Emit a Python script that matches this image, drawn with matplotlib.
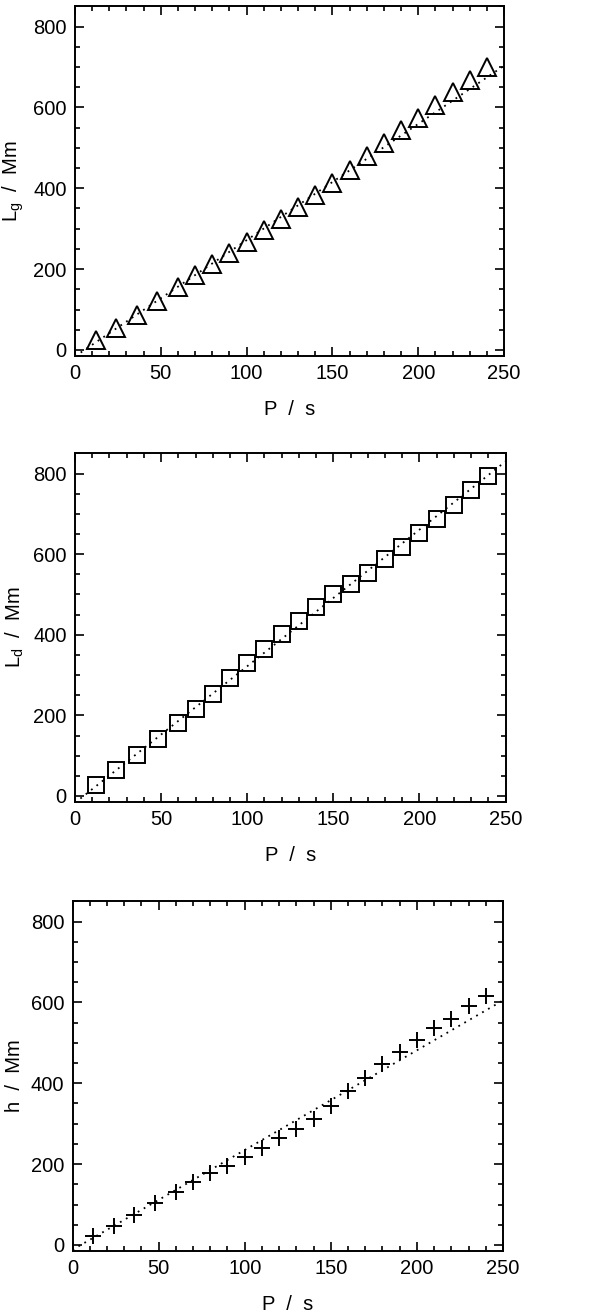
import numpy as np
import matplotlib.pyplot as plt

plt.rcParams['font.family'] = ['Liberation Sans', 'DejaVu Sans']

# Period values (s), shared by all three panels
period = [12, 24, 36, 48, 60, 70, 80, 90, 100, 110, 120, 130, 140, 150,
          160, 170, 180, 190, 200, 210, 220, 230, 240]

# Panel values (Mm)
lg_vals = [24, 54, 86, 121, 156, 186, 212, 241, 267, 296, 325, 354, 383,
           414, 446, 480, 513, 543, 575, 606, 637, 668, 699]
ld_vals = [26, 64, 102, 141, 182, 216, 254, 293, 330, 365, 401, 435, 468,
           500, 526, 554, 587, 618, 653, 686, 722, 758, 793]
h_vals = [21, 47, 74, 103, 131, 156, 179, 196, 218, 241, 265, 286, 312,
          344, 381, 414, 447, 478, 508, 537, 560, 590, 617]

# Dotted reference lines (end points)
line_x = [0, 250]
lg_line = [-16, 703]
ld_line = [-17, 830]
h_line = [-12, 605]

ylabels = ['L$_\\mathregular{g}$  /  Mm', 'L$_\\mathregular{d}$  /  Mm', 'h  /  Mm']
markers = ['^', 's', '+']
msizes = [12.5, 11.5, 11.5]
series = [lg_vals, ld_vals, h_vals]
lines = [lg_line, ld_line, h_line]

# axes boxes measured in figure pixels (left, top, right, bottom)
boxes = [(75, 6, 504, 356), (75, 453, 505.5, 802), (72.5, 901, 503, 1251)]

W, H = 600, 1314
fig = plt.figure(figsize=(W / 100, H / 100), dpi=100)

for i in range(3):
    l, t, r, b = boxes[i]
    ax = fig.add_axes([l / W, 1 - b / H, (r - l) / W, (b - t) / H])
    ax.plot(line_x, lines[i], color='black', linestyle=(0, (1, 2.8)), linewidth=1.3)
    if markers[i] == '+':
        ax.plot(period, series[i], linestyle='none', marker='+', markersize=msizes[i],
                markeredgewidth=1.4, color='black')
    else:
        ax.plot(period, series[i], linestyle='none', marker=markers[i], markersize=msizes[i],
                markerfacecolor='none', markeredgecolor='black', markeredgewidth=1.4)
    ax.set_xlim(0, 250)
    ax.set_ylim(-15, 851)
    ax.set_xticks([0, 50, 100, 150, 200, 250])
    ax.set_xticks(np.arange(0, 251, 10), minor=True)
    ax.set_yticks([0, 200, 400, 600, 800])
    ax.set_yticks(np.arange(0, 851, 50), minor=True)
    ax.tick_params(which='both', direction='in', top=True, right=True,
                   width=1.2, labelsize=14.5)
    ax.tick_params(which='major', length=6.5, pad=6)
    ax.tick_params(which='minor', length=3.6)
    for s in ax.spines.values():
        s.set_linewidth(1.4)
    ax.set_xlabel('P  /  s', fontsize=14.5, labelpad=12)
    ax.set_ylabel(ylabels[i], fontsize=14.5, labelpad=5)

plt.savefig('out.png', dpi=100)
